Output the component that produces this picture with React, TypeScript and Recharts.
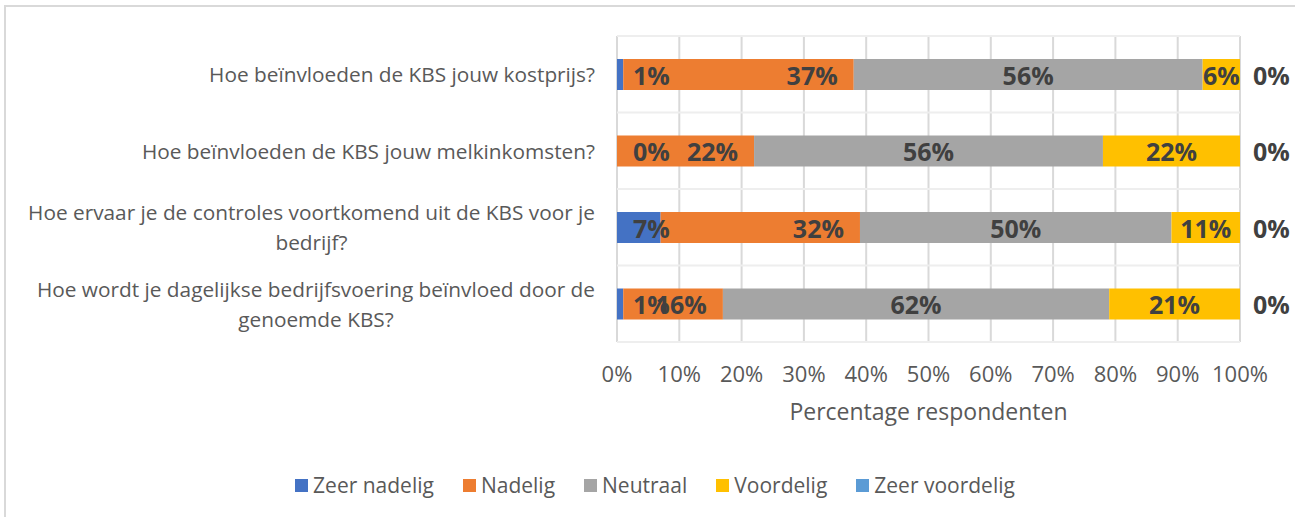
import { Bar, BarChart, CartesianGrid, LabelList, Legend, XAxis, YAxis } from "recharts";

const QUESTIONS = [
  "Hoe beïnvloeden de KBS jouw kostprijs?",
  "Hoe beïnvloeden de KBS jouw melkinkomsten?",
  "Hoe ervaar je de controles voortkomend uit de KBS voor je bedrijf?",
  "Hoe wordt je dagelijkse bedrijfsvoering beïnvloed door de genoemde KBS?",
];
// tick labels as Excel wrapped them
const QUESTION_LINES = [
  ["Hoe beïnvloeden de KBS jouw kostprijs?"],
  ["Hoe beïnvloeden de KBS jouw melkinkomsten?"],
  ["Hoe ervaar je de controles voortkomend uit de KBS voor je", "bedrijf?"],
  ["Hoe wordt je dagelijkse bedrijfsvoering beïnvloed door de", "genoemde KBS?"],
];

const ZEER_NADELIG = [1, 0, 7, 1];
const NADELIG = [37, 22, 32, 16];
const NEUTRAAL = [56, 56, 50, 62];
const VOORDELIG = [6, 22, 11, 21];
const ZEER_VOORDELIG = [0, 0, 0, 0];

const X_TICKS = [0, 10, 20, 30, 40, 50, 60, 70, 80, 90, 100];

const SERIES = [
  { key: "zeerNadelig", name: "Zeer nadelig", color: "#4472C4", values: ZEER_NADELIG, label: "base" },
  { key: "nadelig", name: "Nadelig", color: "#ED7D31", values: NADELIG, label: "end" },
  { key: "neutraal", name: "Neutraal", color: "#A5A5A5", values: NEUTRAAL, label: "center" },
  { key: "voordelig", name: "Voordelig", color: "#FFC000", values: VOORDELIG, label: "center" },
  { key: "zeerVoordelig", name: "Zeer voordelig", color: "#5B9BD5", values: ZEER_VOORDELIG, label: "outside" },
];

const DATA = QUESTIONS.map((q, i) => {
  const row: Record<string, string | number> = { name: q };
  SERIES.forEach((s) => {
    row[s.key] = s.values[i];
  });
  return row;
});

const FONT = '"Open Sans", sans-serif';
const CAT_SIZE = 20.8;
const TEXT_GRAY = "#595959";
const LABEL_GRAY = "#404040";

let ctx: CanvasRenderingContext2D | null = null;
function measure(text: string, size: number) {
  if (!ctx) ctx = document.createElement("canvas").getContext("2d");
  if (!ctx) return text.length * size * 0.5;
  ctx.font = `${size}px "Open Sans"`;
  return ctx.measureText(text).width;
}

function QuestionTick(props: any) {
  const { x, y, payload } = props;
  const idx = QUESTIONS.indexOf(payload.value);
  const lines = QUESTION_LINES[idx] ?? [payload.value];
  const maxW = Math.max(...lines.map((l) => measure(l, CAT_SIZE)));
  const cx = x - maxW / 2;
  const lineH = 30;
  const top = y - ((lines.length - 1) * lineH) / 2;
  return (
    <text fontFamily={FONT} fontSize={CAT_SIZE} fill={TEXT_GRAY} textAnchor="middle">
      {lines.map((l, i) => (
        <tspan key={i} x={cx} y={top + i * lineH} dominantBaseline="central">
          {l}
        </tspan>
      ))}
    </text>
  );
}

function makeLabel(mode: string) {
  return (props: any) => {
    const vb = props.viewBox ?? props;
    const x = Number(vb.x);
    const y = Number(vb.y);
    const w = Number(vb.width);
    const h = Number(vb.height);
    let tx = x + w / 2;
    let anchor: "start" | "middle" | "end" = "middle";
    if (mode === "base") {
      tx = x + 16;
      anchor = "start";
    } else if (mode === "end") {
      tx = x + w - 16;
      anchor = "end";
    } else if (mode === "outside") {
      tx = x + w + 13;
      anchor = "start";
    }
    return (
      <text
        x={tx}
        y={y + h / 2}
        textAnchor={anchor}
        dominantBaseline="central"
        fontFamily={FONT}
        fontSize={25}
        fontWeight={700}
        fill={LABEL_GRAY}
      >
        {`${props.value}%`}
      </text>
    );
  };
}

function AxisTitle(props: any) {
  const vb = props.viewBox;
  return (
    <text
      x={vb.x + vb.width / 2}
      y={vb.y + 69}
      textAnchor="middle"
      dominantBaseline="central"
      fontFamily={FONT}
      fontSize={23}
      fill={TEXT_GRAY}
    >
      Percentage respondenten
    </text>
  );
}

function LegendContent(props: any) {
  const items = [...(props.payload ?? [])].sort(
    (a: any, b: any) =>
      SERIES.findIndex((s) => s.name === a.value) - SERIES.findIndex((s) => s.name === b.value)
  );
  return (
    <div
      style={{
        display: "flex",
        justifyContent: "center",
        alignItems: "center",
        gap: 29,
        fontFamily: FONT,
        fontSize: 21,
        color: TEXT_GRAY,
        height: 30,
      }}
    >
      {items.map((it: any) => (
        <span key={it.value} style={{ display: "inline-flex", alignItems: "center" }}>
          <span style={{ width: 13, height: 13, background: it.color, marginRight: 5, display: "inline-block" }} />
          {it.value}
        </span>
      ))}
    </div>
  );
}

export default function App() {
  return (
    <div
      style={{
        position: "absolute",
        left: 0,
        top: 0,
        width: 1295,
        height: 517,
        overflow: "hidden",
        background: "#fff",
      }}
    >
      <div
        style={{
          position: "absolute",
          left: 4,
          top: 5,
          width: 1400,
          height: 600,
          border: "2px solid #d9d9d9",
        }}
      />
      <div style={{ position: "absolute", left: 0, top: 0 }}>
        <BarChart
          width={1295}
          height={517}
          data={DATA}
          layout="vertical"
          barSize={31}
          margin={{ top: 36, right: 55, bottom: 17, left: 0 }}
        >
          <CartesianGrid horizontal={false} stroke="#d9d9d9" strokeWidth={2} />
          <CartesianGrid
            vertical={false}
            stroke="#eeeeee"
            strokeWidth={2}
            horizontalCoordinatesGenerator={({ offset }: any) =>
              [...QUESTIONS.map((_, i) => offset.top + (i * offset.height) / QUESTIONS.length), offset.top + offset.height]
            }
          />
          <XAxis
            type="number"
            domain={[0, 100]}
            ticks={X_TICKS}
            interval={0}
            tickFormatter={(v) => `${v}%`}
            axisLine={false}
            tickLine={false}
            tickSize={0}
            tickMargin={24}
            height={128}
            tick={{ fontFamily: FONT, fontSize: 22, fill: TEXT_GRAY }}
            label={<AxisTitle />}
          />
          <YAxis
            type="category"
            dataKey="name"
            width={617}
            axisLine={false}
            tickLine={false}
            tickSize={0}
            tickMargin={22}
            tick={<QuestionTick />}
            interval={0}
          />
          <Legend
            verticalAlign="bottom"
            height={30}
            content={<LegendContent />}
            wrapperStyle={{ left: 0, width: 1310 }}
          />
          {SERIES.map((s) => (
            <Bar
              key={s.key}
              dataKey={s.key}
              name={s.name}
              stackId="kbs"
              fill={s.color}
              minPointSize={0.01}
              isAnimationActive={false}
            >
              <LabelList dataKey={s.key} content={makeLabel(s.label)} />
            </Bar>
          ))}
        </BarChart>
      </div>
    </div>
  );
}
